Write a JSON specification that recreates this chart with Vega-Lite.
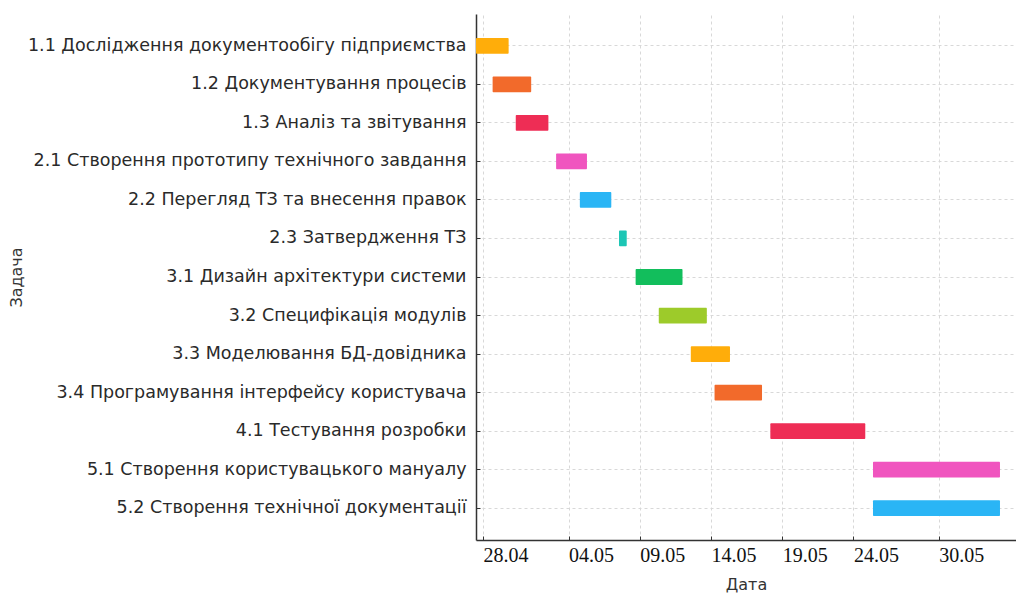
{
  "$schema": "https://vega.github.io/schema/vega-lite/v6.json",
  "width": 540,
  "height": 526,
  "autosize": "none",
  "padding": {"left": 476, "top": 14, "right": 0, "bottom": 54},
  "background": "white",
  "config": {"view": {"stroke": null}},
  "data": {
    "values": [
      {"task": "1.1 Дослідження документообігу підприємства", "start": "2024-04-27T12:00:00Z", "end": "2024-04-29T19:00:00Z"},
      {"task": "1.2 Документування процесів", "start": "2024-04-28T16:00:00Z", "end": "2024-05-01T09:00:00Z"},
      {"task": "1.3 Аналіз та звітування", "start": "2024-04-30T07:00:00Z", "end": "2024-05-02T14:00:00Z"},
      {"task": "2.1 Створення прототипу технічного завдання", "start": "2024-05-03T03:00:00Z", "end": "2024-05-05T07:00:00Z"},
      {"task": "2.2 Перегляд ТЗ та внесення правок", "start": "2024-05-04T19:00:00Z", "end": "2024-05-07T00:00:00Z"},
      {"task": "2.3 Затвердження ТЗ", "start": "2024-05-07T13:00:00Z", "end": "2024-05-08T02:00:00Z"},
      {"task": "3.1 Дизайн архітектури системи", "start": "2024-05-08T17:00:00Z", "end": "2024-05-12T00:00:00Z"},
      {"task": "3.2 Специфікація модулів", "start": "2024-05-10T08:00:00Z", "end": "2024-05-13T17:00:00Z"},
      {"task": "3.3 Моделювання БД-довідника", "start": "2024-05-12T14:00:00Z", "end": "2024-05-15T08:00:00Z"},
      {"task": "3.4 Програмування інтерфейсу користувача", "start": "2024-05-14T06:00:00Z", "end": "2024-05-17T14:00:00Z"},
      {"task": "4.1 Тестування розробки", "start": "2024-05-18T04:00:00Z", "end": "2024-05-24T20:00:00Z"},
      {"task": "5.1 Створення користувацького мануалу", "start": "2024-05-25T09:00:00Z", "end": "2024-06-03T07:00:00Z"},
      {"task": "5.2 Створення технічної документації", "start": "2024-05-25T09:00:00Z", "end": "2024-06-03T07:00:00Z"}
    ]
  },
  "mark": {"type": "bar", "cornerRadius": 1},
  "encoding": {
    "y": {
      "field": "task",
      "type": "nominal",
      "sort": null,
      "scale": {"paddingInner": 0.59, "paddingOuter": 0.62},
      "axis": {
        "title": "Задача",
        "titleFont": "DejaVu Sans",
        "titleFontSize": 16,
        "titleFontWeight": "normal",
        "titleColor": "#333",
        "titleX": -452,
        "labelFont": "DejaVu Sans",
        "labelFontSize": 17.5,
        "labelColor": "#2a2a2a",
        "labelPadding": 14,
        "labelLimit": 500,
        "tickSize": -4,
        "tickColor": "#333",
        "domainColor": "#333",
        "domainWidth": 1.5,
        "grid": true,
        "gridColor": "#d8d8d8",
        "gridDash": [3, 3]
      }
    },
    "x": {
      "field": "start",
      "type": "temporal",
      "scale": {"type": "utc", "domain": ["2024-04-27T12:00:00Z", "2024-06-04T10:00:00Z"], "nice": false},
      "axis": {
        "title": "Дата",
        "titleFont": "DejaVu Sans",
        "titleFontSize": 16,
        "titleFontWeight": "normal",
        "titleColor": "#333",
        "titlePadding": 11,
        "values": [
          {"year": 2024, "month": "apr", "date": 28, "utc": true},
          {"year": 2024, "month": "may", "date": 4, "utc": true},
          {"year": 2024, "month": "may", "date": 9, "utc": true},
          {"year": 2024, "month": "may", "date": 14, "utc": true},
          {"year": 2024, "month": "may", "date": 19, "utc": true},
          {"year": 2024, "month": "may", "date": 24, "utc": true},
          {"year": 2024, "month": "may", "date": 30, "utc": true}
        ],
        "labelExpr": "utcFormat(datum.value, '%d.%m')",
        "labelFont": "Liberation Serif",
        "labelFontSize": 20,
        "labelColor": "#111",
        "labelAlign": "left",
        "labelPadding": 9,
        "tickSize": -4,
        "tickColor": "#333",
        "domainColor": "#333",
        "domainWidth": 1.5,
        "grid": true,
        "gridColor": "#d8d8d8",
        "gridDash": [3, 3]
      }
    },
    "x2": {"field": "end"},
    "color": {
      "field": "task",
      "type": "nominal",
      "sort": null,
      "legend": null,
      "scale": {
        "range": ["#FFAD0A", "#F26A2B", "#EE2D55", "#F055BF", "#2AB5F5", "#1DC6B5", "#12BE5C", "#9DCB2A", "#FFAD0A", "#F26A2B", "#EE2D55", "#F055BF", "#2AB5F5"]
      }
    }
  }
}
